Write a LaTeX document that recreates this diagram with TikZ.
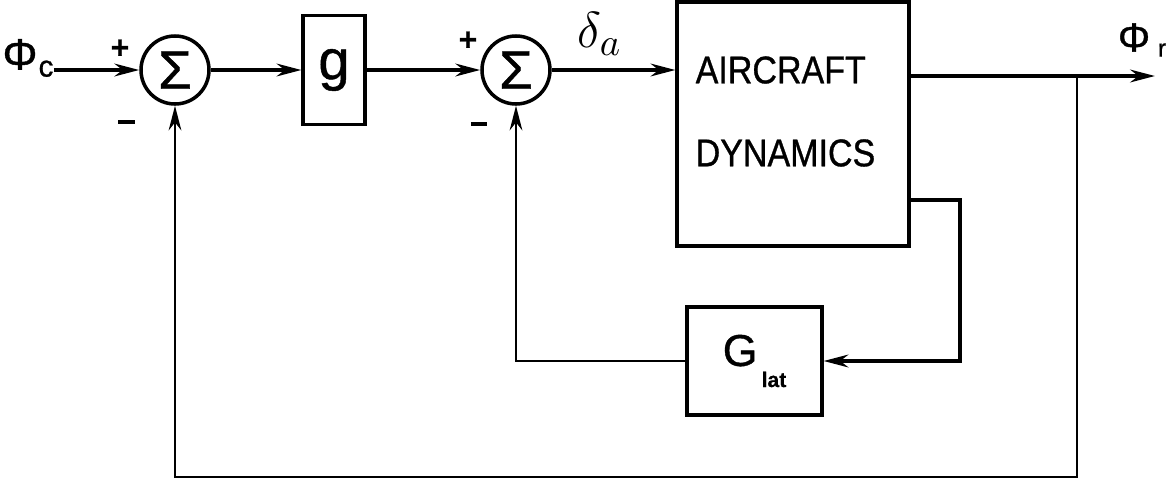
\documentclass[tikz,border=0pt]{standalone}
\usepackage{fontspec}
\setmainfont[FakeBold=0.8]{Liberation Sans}
\newfontfamily\narrowfont[FakeStretch=0.88,FakeBold=0.8]{Liberation Sans}
\usetikzlibrary{arrows.meta,calc}

\begin{document}
\begin{tikzpicture}[
    block/.style={draw, line width=0.9pt, inner sep=0pt},
    sumnode/.style={draw, circle, line width=1pt, minimum size=0.68cm, inner sep=0pt, font=\fontsize{15.5}{15.5}\selectfont},
    sgn/.style={inner sep=0pt, font=\bfseries\fontsize{9}{9}\selectfont},
    sig/.style={line width=1.1pt},
    fb/.style={line width=0.75pt},
    tip/.style={-{Stealth[length=7pt,width=3.6pt]}}
]
\useasboundingbox (0,0) rectangle (11.68,4.87);
\node[inner sep=0pt, font=\fontsize{12.5}{12.5}\selectfont] (phic) at (0.28,4.29) {Φ\kern0.3pt\raisebox{-2pt}{\fontsize{8.5}{8.5}\selectfont c}};
\node[sumnode] (sum1) at (1.75,4.17) {Σ};
\node[block, minimum width=0.62cm, minimum height=1.09cm, font=\fontsize{16}{16}\selectfont] (gain) at (3.34,4.17) {g};
\node[sumnode] (sum2) at (5.16,4.17) {Σ};
\node[block, minimum width=2.32cm, minimum height=2.44cm] (plant) at (7.93,3.63) {};
\node[inner sep=0pt, anchor=west, align=left, font=\narrowfont\fontsize{11}{23.6}\selectfont] (plantlbl) at (6.95,3.755) {AIRCRAFT\\DYNAMICS};
\node[block, minimum width=1.35cm, minimum height=1.08cm, font=\fontsize{12.7}{13}\selectfont] (glat) at (7.545,1.26) {G\hspace{1.2pt}\raisebox{-6pt}{\bfseries\fontsize{6}{6}\selectfont lat}};
\node[sgn] (plus1) at (1.20,4.38) {+};
\node[sgn] (minus1) at (1.265,3.65) {\rule{4.6pt}{1.4pt}};
\node[sgn] (plus2) at (4.68,4.46) {+};
\node[sgn] (minus2) at (4.79,3.63) {\rule{4.6pt}{1.4pt}};
\node[inner sep=0pt, font=\fontsize{15}{15}\selectfont] (deltaa) at (6.00,4.53) {$\delta_a$};
\node[inner sep=0pt, font=\fontsize{11.5}{11.5}\selectfont] (phir) at (11.42,4.47) {Φ\hspace{2.2pt}\raisebox{-1.5pt}{\fontsize{7}{7}\selectfont r}};
\coordinate (branch) at (10.77,4.11);
\coordinate (outend) at (11.55,4.11);
\coordinate (bot) at (10.77,0.10);
\coordinate (tap) at (9.60,2.87);
\draw[sig, tip] (phic.east |- sum1.west) -- (sum1.west);
\draw[sig, tip] (sum1.east) -- (gain.west);
\draw[sig, tip] (gain.east) -- (sum2.west);
\draw[sig, tip] (sum2.east) -- (plant.west |- sum2.east);
\draw[sig, tip] (plant.east |- branch) -- (outend);
\draw[sig, tip] (plant.east |- tap) -- (tap) |- (glat.east);
\draw[fb, tip] (glat.west) -| (sum2.south);
\draw[fb, tip] (branch) -- (bot) -| (sum1.south);
\end{tikzpicture}
\end{document}
